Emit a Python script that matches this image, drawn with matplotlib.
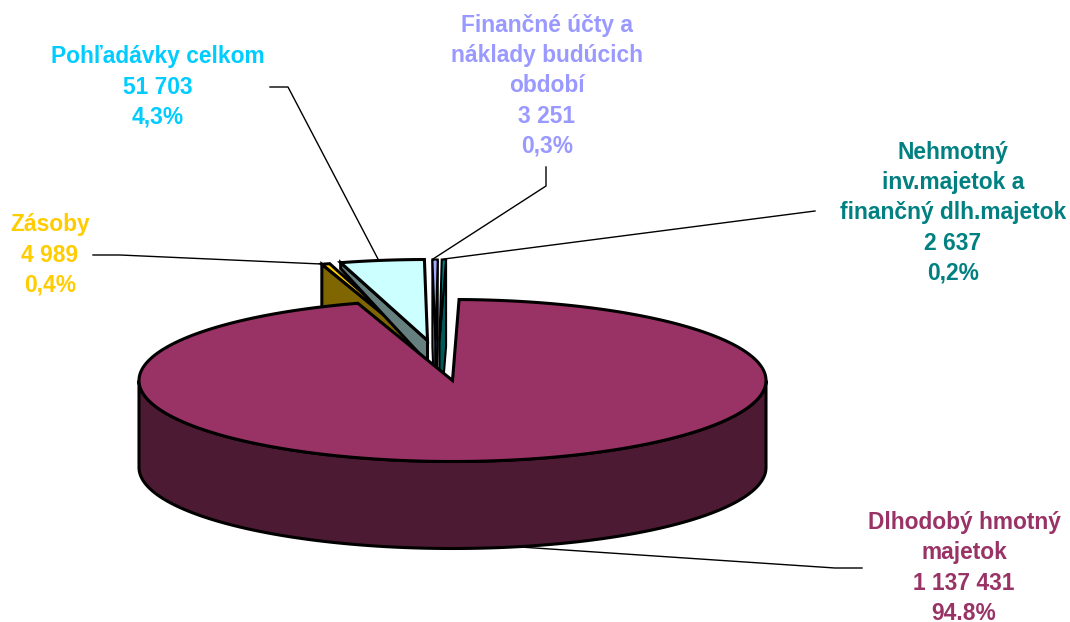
import numpy as np
import matplotlib
matplotlib.use("Agg")
import matplotlib.pyplot as plt
from matplotlib.patches import Polygon

plt.rcParams["font.family"] = "Liberation Sans"

# slices in clockwise order, starting at the top of the pie
names = ["Dlhodobý hmotný\nmajetok", "Zásoby", "Pohľadávky celkom",
         "Finančné účty a\nnáklady budúcich\nobdobí", "Nehmotný\ninv.majetok a\nfinančný dlh.majetok"]
values = [1137431, 4989, 51703, 3251, 2637]
value_labels = ["1 137 431", "4 989", "51 703", "3 251", "2 637"]
pct_labels = ["94.8%", "0,4%", "4,3%", "0,3%", "0,2%"]

top_colors = ["#993366", "#FFCC00", "#CCFFFF", "#A9A9FF", "#008080"]
side_colors = ["#4D1A33", "#806600", "#668080", "#8484BB", "#005A5A"]
text_colors = ["#993366", "#FFCC00", "#00CCFF", "#9999FF", "#008080"]

# pie geometry in pixels
cx, cy, rx, ry, depth = 452.5, 380.5, 313.5, 81, 87
start_angle = 1.2
shift_x = [0, -36, -25, -17, -13]
shift_y = [0, -39, -40, -40, -40]
# how far the cut faces reach down at the rim and at the centre
drop_rim = [87, 87, 6, 87, 87]
drop_apex = [87, 87, 22, 87, 87]
edge_width = [2.2, 2.2, 2.2, 1.5, 1.5]
label_x = [964, 50, 158, 547, 953]
label_y = [568, 255, 87, 86, 213]
leaders = [[(520, 547), (835, 568), (862, 568)],
           [(321, 264), (120, 255), (93, 255)],
           [(378, 259), (288, 87), (270, 87)],
           [(433, 259), (546, 186), (546, 167)],
           [(444, 259), (815, 211)]]

fig = plt.figure(figsize=(10.7, 6.22), dpi=100)
ax = fig.add_axes([0, 0, 1, 1])
ax.set_xlim(0, 1070)
ax.set_ylim(622, 0)
ax.axis("off")


def rim(a, dx=0, dy=0):
    t = np.radians(a)
    return np.column_stack([cx + dx + rx * np.sin(t), cy + dy - ry * np.cos(t)])


def draw(pts, color, z, lw=2.2):
    ax.add_patch(Polygon(pts, closed=True, facecolor=color, edgecolor="black",
                         linewidth=lw, joinstyle="miter", zorder=z))


spans = np.array(values) / sum(values) * 360
a0 = start_angle
angles = []
for s in spans:
    angles.append((a0, a0 + s))
    a0 += s

# small slices go first, left to right, the big one is on top of them
order = [1, 2, 3, 4, 0]
for i in order:
    a1, a2 = angles[i]
    dx, dy = shift_x[i], shift_y[i]
    apex = np.array([[cx + dx, cy + dy]])
    z = 3 + order.index(i)
    lw = edge_width[i]
    for a in (a1, a2):
        visible = np.sin(np.radians(a1)) < 0 if a == a1 else np.sin(np.radians(a2)) > 0
        if visible and i != 0:
            outer = rim(a, dx, dy)
            draw(np.vstack([apex, outer, outer + [0, drop_rim[i]], apex + [0, drop_apex[i]]]),
                 side_colors[i], z, lw)
    if i == 0:
        front = rim(np.linspace(90, 270, 200))
        draw(np.vstack([front, (front + [0, depth])[::-1]]), side_colors[i], z)
    arc = rim(np.linspace(a1, a2, 400), dx, dy)
    draw(np.vstack([apex, arc]), top_colors[i], z + 0.5, lw)

for pts in leaders:
    xs, ys = zip(*pts)
    ax.plot(xs, ys, color="black", linewidth=1, zorder=2)

for i in range(len(names)):
    ax.text(label_x[i], label_y[i], f"{names[i]}\n{value_labels[i]}\n{pct_labels[i]}",
            color=text_colors[i], fontsize=16.4, fontweight="bold", ha="center",
            va="center", linespacing=1.4, zorder=10)

fig.savefig("out.png", dpi=100)
